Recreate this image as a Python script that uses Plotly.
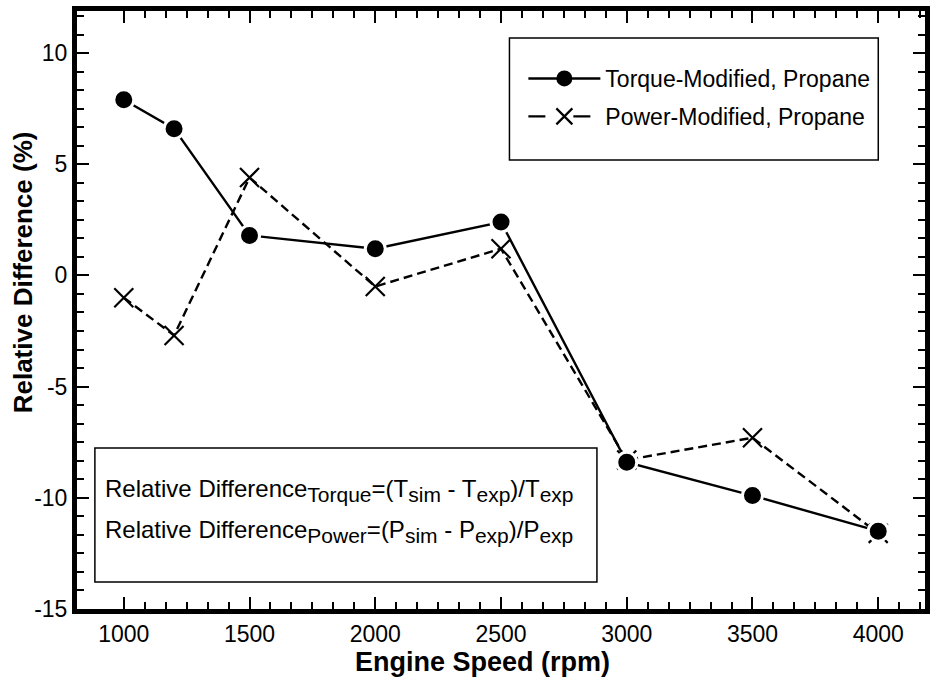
import plotly.graph_objects as go

# ---- data ----
speed = [1000, 1200, 1500, 2000, 2500, 3000, 3500, 4000]
torque_diff = [7.9, 6.6, 1.8, 1.2, 2.4, -8.4, -9.9, -11.5]
power_diff = [-1.0, -2.7, 4.4, -0.5, 1.2, -8.3, -7.3, -11.6]
x_ticks = [1000, 1500, 2000, 2500, 3000, 3500, 4000]
y_ticks = [-15, -10, -5, 0, 5, 10]
x_range = [814, 4186]
y_range = [-15, 11.89]

x_minor = [1000 + k * 500 / 6 for k in range(0, 40) if 1000 + k * 500 / 6 < x_range[1]]
y_minor = [-15 + k * 5 / 6 for k in range(0, 40) if -15 + k * 5 / 6 < y_range[1]]

FONT = "Arial, Liberation Sans, sans-serif"

W, H = 930, 677
L, R, T, B = 77, 0, 11, 68
pw, ph = W - L - R, H - T - B


def px(x):
    return (x - L) / pw


def py(y):
    return (H - B - y) / ph


def sub(s):
    return "<sub><span style='font-size:21px'>" + s + "</span></sub>"


solid = dict(color="black", width=2.4)
dashed = dict(color="black", width=2.4, dash="9px,5px")

fig = go.Figure()
# data traces (power first so the circles sit on top)
fig.add_trace(go.Scatter(
    x=speed, y=power_diff, name="Power-Modified, Propane",
    mode="lines+markers", showlegend=False, line=dashed,
    marker=dict(symbol="x-thin", size=19, color="black",
                line=dict(color="black", width=2.2)),
))
fig.add_trace(go.Scatter(
    x=speed, y=torque_diff, name="Torque-Modified, Propane",
    mode="lines+markers", showlegend=False, line=solid,
    marker=dict(symbol="circle", size=20, color="black",
                line=dict(color="white", width=3)),
))
# legend entries
fig.add_trace(go.Scatter(
    x=[None], y=[None], name="Torque-Modified, Propane",
    mode="lines+markers", legendgroup="a", line=solid,
    marker=dict(symbol="circle", size=16, color="black"),
))
fig.add_trace(go.Scatter(
    x=[None], y=[None], name="Power-Modified, Propane",
    mode="lines+markers", legendgroup="b",
    line=dict(color="black", width=2.4, dash="17px,28px"),
    marker=dict(symbol="x-thin", size=16, color="black",
                line=dict(color="black", width=2.2)),
))

axis_common = dict(
    showline=True, linecolor="black", linewidth=5, mirror="ticks",
    ticks="inside", tickcolor="black", tickwidth=2, ticklen=12,
    showgrid=False, zeroline=False,
    tickfont=dict(family=FONT, size=23, color="black"),
)

fig.update_xaxes(
    range=x_range, tickmode="array", tickvals=x_ticks,
    ticktext=[str(v) for v in x_ticks],
    minor=dict(tickmode="array", tickvals=x_minor, ticks="inside",
               ticklen=7, tickwidth=2, tickcolor="black"),
    **axis_common,
)
fig.update_yaxes(
    range=y_range, tickmode="array", tickvals=y_ticks,
    ticktext=[str(v) for v in y_ticks],
    minor=dict(tickmode="array", tickvals=y_minor, ticks="inside",
               ticklen=7, tickwidth=2, tickcolor="black"),
    **axis_common,
)

# axis titles
fig.add_annotation(
    xref="paper", yref="paper", x=px(485), y=py(662), xanchor="center", yanchor="middle",
    showarrow=False, font=dict(family=FONT, size=27, color="black"),
    text="<b>Engine Speed (rpm)</b>",
)
fig.add_annotation(
    xref="paper", yref="paper", x=px(23), y=py(272), xanchor="center", yanchor="middle",
    showarrow=False, textangle=-90, font=dict(family=FONT, size=26, color="black"),
    text="<b>Relative Difference (%)</b>",
)

# legend frame and formula frame
fig.add_shape(type="rect", xref="paper", yref="paper",
              x0=px(512), x1=px(883), y0=py(160), y1=py(38),
              line=dict(color="black", width=1.5), fillcolor="white", layer="below")
fig.add_shape(type="rect", xref="paper", yref="paper",
              x0=px(95), x1=px(600), y0=py(582), y1=py(448),
              line=dict(color="black", width=1.5), fillcolor="white", layer="below")

fig.add_annotation(
    xref="paper", yref="paper", x=px(103), y=py(490), xanchor="left", yanchor="middle",
    showarrow=False, font=dict(family=FONT, size=24, color="black"),
    text="Relative Difference" + sub("Torque") + "=(T" + sub("sim") + " - T" + sub("exp")
         + ")/T" + sub("exp"),
)
fig.add_annotation(
    xref="paper", yref="paper", x=px(103), y=py(531), xanchor="left", yanchor="middle",
    showarrow=False, font=dict(family=FONT, size=24, color="black"),
    text="Relative Difference" + sub("Power") + "=(P" + sub("sim") + " - P" + sub("exp")
         + ")/P" + sub("exp"),
)

fig.update_layout(
    width=W, height=H,
    margin=dict(l=L, r=R, t=T, b=B),
    paper_bgcolor="white", plot_bgcolor="white",
    font=dict(family=FONT, color="black"),
    showlegend=True,
    legend=dict(x=px(526), y=py(57), xanchor="left", yanchor="top",
                bgcolor="rgba(0,0,0,0)", borderwidth=0,
                font=dict(family=FONT, size=23, color="black"),
                tracegroupgap=5, itemwidth=72),
)

fig.write_html("out.html")
